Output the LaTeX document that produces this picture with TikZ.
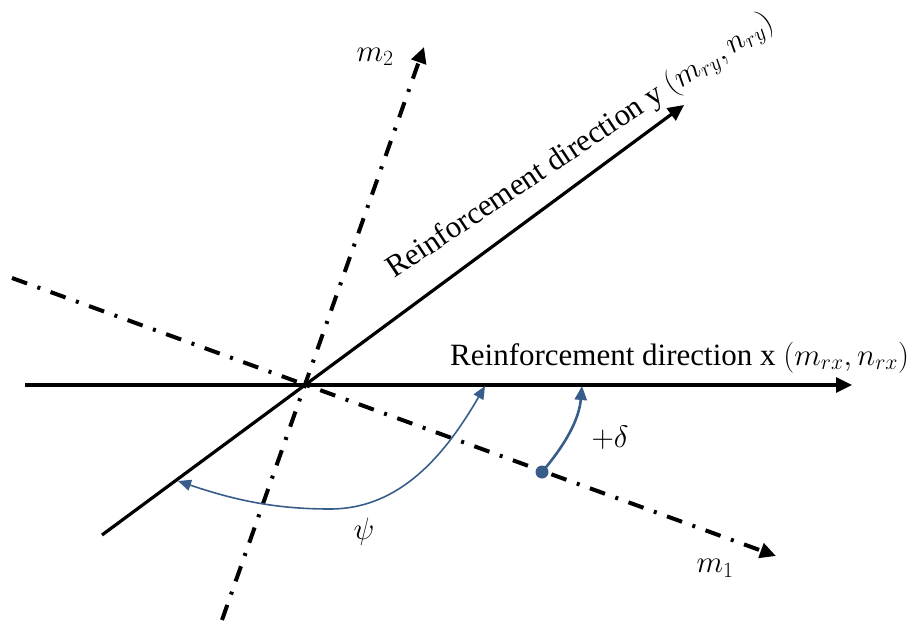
\RequirePackage{fix-cm}
\documentclass[tikz,border=0pt]{standalone}
\usepackage{fontspec}
\setmainfont{Liberation Serif}
\usetikzlibrary{arrows.meta}
\definecolor{arcblue}{HTML}{385D8A}
\begin{document}
\begin{tikzpicture}[x=1pt,y=-1pt,
  axis/.style={line width=3.2pt,-{Triangle[length=16pt,width=15pt]}},
  modal/.style={line width=4pt,dash pattern=on 16pt off 11pt on 3pt off 11pt,-{Triangle[length=16pt,width=15pt]}},
  psiarc/.style={arcblue,line width=1.6pt,{Triangle[length=13pt,width=11pt]}-{Triangle[length=13pt,width=11pt]}},
  deltaarc/.style={arcblue,line width=2.6pt,-{Triangle[length=14pt,width=12pt]}},
  lbl/.style={font=\fontsize{31}{37}\selectfont,inner sep=0pt},
  sym/.style={font=\fontsize{31}{37}\selectfont,inner sep=0pt},
  blob/.style={circle,fill=arcblue,inner sep=0pt,minimum size=13pt}]
\useasboundingbox (0,0) rectangle (913,626);
% coordinates
\coordinate (O) at (304,385);
\coordinate (hS) at (25,385);
\coordinate (hE) at (852,385);
\coordinate (yS) at (102,535);
\coordinate (yE) at (684,105);
\coordinate (m1S) at (12,278);
\coordinate (m1E) at (776,556);
\coordinate (m2S) at (222,620);
\coordinate (m2E) at (424,47);
\coordinate (psiA) at (178,481);
\coordinate (psiB) at (485,386);
\coordinate (dT) at (582,386);
% modal axes
\draw[modal] (m1S) -- (m1E);
\draw[modal] (m2S) -- (m2E);
% reinforcement axes
\draw[axis] (hS) -- (hE);
\draw[axis] (yS) -- (yE);
% angle arcs
\draw[psiarc] (psiA) .. controls (240,502) and (280,509) .. (330,509)
  .. controls (400,509) and (445,455) .. (psiB);
\node[blob] (dot) at (542,472) {};
\draw[deltaarc] (dot.center) .. controls (565,445) and (579,420) .. (dT);
% labels
\node[lbl,anchor=base west] (lx) at (450,365) {Reinforcement direction x $(m_{rx},n_{rx})$};
\node[lbl,anchor=base west,rotate=33.6] (ly) at (394,279) {Reinforcement direction y $(m_{ry},n_{ry})$};
\node[sym] (lm2) at (375,57) {$m_2$};
\node[sym] (lm1) at (715,568) {$m_1$};
\node[sym] (lpsi) at (364,532) {$\psi$};
\node[sym] (ldelta) at (610,438) {$+\delta$};
\end{tikzpicture}
\end{document}
